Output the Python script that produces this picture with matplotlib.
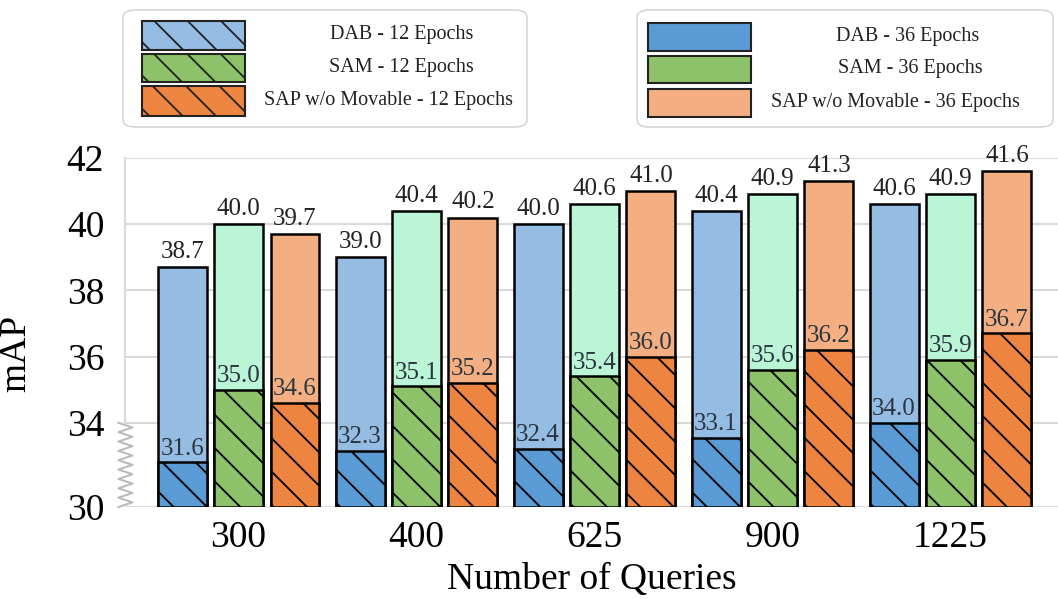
import matplotlib
matplotlib.use('Agg')
import matplotlib.pyplot as plt
from matplotlib.patches import Rectangle, FancyBboxPatch
import numpy as np

plt.rcParams['font.family'] = ['Liberation Serif', 'DejaVu Serif']
plt.rcParams['hatch.linewidth'] = 1.3

# data
queries = ['300', '400', '625', '900', '1225']
dab_12 = [31.6, 32.3, 32.4, 33.1, 34.0]
sam_12 = [35.0, 35.1, 35.4, 35.6, 35.9]
sap_12 = [34.6, 35.2, 36.0, 36.2, 36.7]
dab_36 = [38.7, 39.0, 40.0, 40.4, 40.6]
sam_36 = [40.0, 40.4, 40.6, 40.9, 40.9]
sap_36 = [39.7, 40.2, 41.0, 41.3, 41.6]
yticks = [30, 34, 36, 38, 40, 42]

# colours
light_blue = '#95BDE3'
mint = '#BAF5D5'
light_orange = '#F3AF82'
blue = '#5A9AD5'
green = '#8DC26A'
orange = '#ED8540'

# compressed region below 34 (broken axis look)
knots_y = [0, 30, 31, 34, 100]
knots_t = [0.105, 31.455, 32.5, 34, 100]

def fwd(y):
    return np.interp(y, knots_y, knots_t)

def inv(t):
    return np.interp(t, knots_t, knots_y)

W, H = 1058, 599
fig = plt.figure(figsize=(W / 100, H / 100), dpi=100)
ax = fig.add_axes([125 / W, 1 - 507 / H, 933 / W, 349 / H])
ax.set_yscale('function', functions=(fwd, inv))

x = np.arange(len(queries))
width = 0.275
off = 0.317

tall = [(dab_36, light_blue), (sam_36, mint), (sap_36, light_orange)]
short = [(dab_12, blue), (sam_12, green), (sap_12, orange)]

for i in range(3):
    xs = x + (i - 1) * off
    vals, col = tall[i]
    ax.bar(xs, np.array(vals) - 30, width, bottom=30, color=col,
           edgecolor='black', linewidth=1.8, zorder=2)
    for xx, v in zip(xs, vals):
        ax.annotate(f'{v:.1f}', (xx, v), xytext=(0, 3), textcoords='offset points',
                    ha='center', va='bottom', fontsize=18, color='#222222',
                    annotation_clip=False)
    vals, col = short[i]
    ax.bar(xs, np.array(vals) - 30, width, bottom=30, color=col,
           edgecolor='black', linewidth=1.8, hatch='\\', zorder=3)
    for xx, v in zip(xs, vals):
        ax.annotate(f'{v:.1f}', (xx, v), xytext=(0, 2), textcoords='offset points',
                    ha='center', va='bottom', fontsize=18, color='#2b3540',
                    zorder=4)

ax.set_xlim(-0.638, 4.604)
ax.set_ylim(30, 42)
ax.set_yticks(yticks)
ax.set_xticks(x)
ax.set_xticklabels(queries)
ax.tick_params(axis='both', length=0, labelsize=27)
ax.tick_params(axis='y', pad=15)
ax.tick_params(axis='x', pad=10)
ax.yaxis.grid(True, color='#dadada', linewidth=1.5, zorder=0)
ax.set_axisbelow(True)
for s in ['top', 'right', 'bottom']:
    ax.spines[s].set_visible(False)
ax.spines['left'].set_bounds(34, 42)
ax.spines['left'].set_color('#dadada')
ax.spines['left'].set_linewidth(1.5)

ax.set_xlabel('Number of Queries', fontsize=27, labelpad=5)
ax.set_ylabel('mAP', fontsize=27)
ax.yaxis.set_label_coords(-0.098, 0.44)

# zigzag between 30 and 34
top_frac = (fwd(34) - fwd(30)) / (fwd(42) - fwd(30))
n = 18
zy = np.linspace(0, top_frac, n + 1)
zx = np.where(np.arange(n + 1) % 2 == 0, -0.007, 0.008)
ax.plot(zx, zy, transform=ax.transAxes, color='#bbbbbb', lw=1.5, clip_on=False)

# legends
def fx(px):
    return px / W

def fy(py):
    return 1 - py / H

def legend_box(x0, x1, handle_x, text_cx, rows, labels, colors, hatch):
    fig.patches.append(FancyBboxPatch((fx(x0), fy(127)), fx(x1 - x0), 117 / H,
                                      boxstyle='round,pad=0,rounding_size=0.012',
                                      transform=fig.transFigure, facecolor='white',
                                      edgecolor='#d6d6d6', lw=1.2))
    for (r0, r1), lab, col, tcx in zip(rows, labels, colors, text_cx):
        fig.patches.append(Rectangle((fx(handle_x), fy(r1)), fx(103), (r1 - r0) / H,
                                     transform=fig.transFigure, facecolor=col,
                                     edgecolor='#222222', lw=1.5, hatch=hatch))
        fig.text(fx(tcx), fy((r0 + r1) / 2 - 0.5), lab, ha='center', va='center',
                 fontsize=14.5, color='#222222')

legend_box(123, 527, 142, [402, 401, 389], [(21, 50), (54, 82), (86, 116)],
           ['DAB - 12 Epochs', 'SAM - 12 Epochs', 'SAP w/o Movable - 12 Epochs'],
           [light_blue, green, orange], '\\')
legend_box(637, 1053, 648, [908, 910, 895], [(23, 51), (56, 83), (89, 117)],
           ['DAB - 36 Epochs', 'SAM - 36 Epochs', 'SAP w/o Movable - 36 Epochs'],
           [blue, green, light_orange], None)

fig.savefig('out.png', dpi=100)
